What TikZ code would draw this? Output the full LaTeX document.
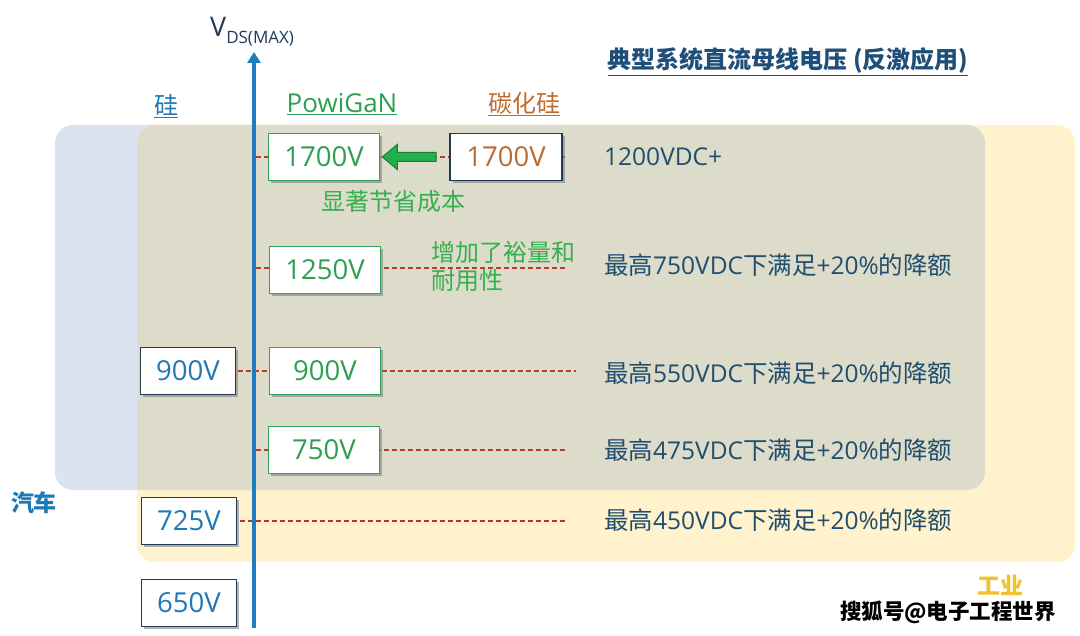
\documentclass[tikz,border=0pt]{standalone}
\usepackage{fontspec}
\setmainfont{Open Sans}
\newfontfamily\cjk{Noto Sans CJK SC}
\usetikzlibrary{arrows.meta,shadows,calc}
\definecolor{bgblue}{HTML}{DAE3EF}
\definecolor{bgyellow}{HTML}{FFF2CC}
\definecolor{bggrey}{HTML}{DDDBC9}
\definecolor{axisblue}{HTML}{1F7EC1}
\definecolor{gangreen}{HTML}{2EA55A}
\definecolor{gantext}{HTML}{2E9E52}
\definecolor{notegreen}{HTML}{34B050}
\definecolor{navy}{HTML}{1F3A56}
\definecolor{sitext}{HTML}{1E78B4}
\definecolor{sictext}{HTML}{BF6B2E}
\definecolor{dashred}{HTML}{B83A2E}
\definecolor{darktext}{HTML}{1F4E6E}
\definecolor{titleblue}{HTML}{1F4E79}
\definecolor{arrowfill}{HTML}{22B04B}
\definecolor{arrowdraw}{HTML}{1A7A38}
\definecolor{gold}{HTML}{F2C12E}
\newcommand{\rowtext}[1]{{\cjk 最高}#1VDC{\cjk 下满足}+20\%{\cjk 的降额}}
\begin{document}
\begin{tikzpicture}[x=1pt,y=-1pt,
  boxbase/.style={draw, line width=1.6pt, fill=white, inner sep=0pt,
    minimum height=47pt, font=\fontsize{27.5}{27.5}\selectfont,
    drop shadow={shadow xshift=2.5pt, shadow yshift=-2.5pt, fill=black!50, opacity=0.6}},
  gbox/.style={boxbase, draw=gangreen, text=gantext, minimum width=111pt},
  sibox/.style={boxbase, draw=navy, text=sitext, minimum width=95pt},
  sicbox/.style={boxbase, draw=navy, text=sictext, minimum width=112pt},
  guide/.style={draw=dashred, line width=1.2pt, dash pattern=on 5pt off 3pt},
  axisline/.style={draw=axisblue, line width=4pt, -{Triangle[width=13pt,length=11pt]}},
  garrow/.style={fill=arrowfill, draw=arrowdraw, line width=1pt, line join=miter},
  gtext/.style={text=notegreen, font=\cjk\fontsize{24}{28}\selectfont, inner sep=0pt},
  rtext/.style={text=darktext, font=\fontsize{24.5}{24.5}\selectfont, anchor=west, inner sep=0pt},
  cattext/.style={font=\fontsize{24}{24}\selectfont, inner sep=0pt},
  sector/.style={font=\cjk\bfseries\fontsize{23}{23}\selectfont, inner sep=0pt}
]
\useasboundingbox (0,0) rectangle (1080,636);
% background regions
\fill[bgblue, rounded corners=18pt] (55,125) rectangle (985,490);
\fill[bgyellow, rounded corners=18pt] (137,125) rectangle (1075,562);
\begin{scope}
  \clip[rounded corners=18pt] (55,125) rectangle (985,490);
  \fill[bggrey, rounded corners=18pt] (137,125) rectangle (1075,562);
\end{scope}
% guide coordinates
\coordinate (a1700) at (256,157); \coordinate (e1700) at (567,157);
\coordinate (a1250) at (256,268); \coordinate (e1250) at (568,268);
\coordinate (a900) at (238,371);  \coordinate (e900) at (576,371);
\coordinate (a750) at (256,450);  \coordinate (e750) at (567,450);
\coordinate (a725) at (240,521);  \coordinate (e725) at (567,521);
\draw[guide] (a1700) -- (e1700);
\draw[guide] (a1250) -- (e1250);
\draw[guide] (a900) -- (e900);
\draw[guide] (a750) -- (e750);
\draw[guide] (a725) -- (e725);
% axis
\coordinate (axb) at (254,628);
\coordinate (axt) at (254,52);
\draw[axisline] (axb) -- (axt);
\node[text=navy, inner sep=0pt, anchor=west] (vlabel) at (210,32)
  {{\fontsize{27}{27}\selectfont V}\raisebox{-7pt}{\fontsize{17}{17}\selectfont DS(MAX)}};
% category labels
\node[cattext, text=sitext] (si) at (166,106) {\underline{\cjk 硅}};
\node[cattext, text=gantext, font=\fontsize{26}{26}\selectfont] (gan) at (342,104) {\underline{PowiGaN}};
\node[cattext, text=sictext] (sic) at (524,104) {\underline{\cjk 碳化硅}};
\node[text=titleblue, font=\cjk\bfseries\fontsize{24}{24}\selectfont, inner sep=0pt] (title) at (788,62)
  {\underline{典型系统直流母线电压 (反激应用)}};
% boxes
\node[gbox] (g1700) at (324,157) {1700V};
\node[sicbox] (s1700) at (506,157) {1700V};
\node[gbox] (g1250) at (325,270) {1250V};
\node[sibox] (si900) at (188,371) {900V};
\node[gbox] (g900) at (325,371) {900V};
\node[gbox] (g750) at (324,450) {750V};
\node[sibox] (si725) at (189,521) {725V};
\node[sibox] (si650) at (189,603) {650V};
% green block arrow from SiC to GaN
\draw[garrow] ($(s1700.west)+(-13,-4.5)$) -- ($(g1700.east)+(17,-4.5)$)
  -- ($(g1700.east)+(17,-12.5)$) -- ($(g1700.east)+(2,0)$)
  -- ($(g1700.east)+(17,12.5)$) -- ($(g1700.east)+(17,4.5)$)
  -- ($(s1700.west)+(-13,4.5)$) -- cycle;
% green notes
\node[gtext] (save) at (393,201) {显著节省成本};
\node[gtext, anchor=west, align=left] (margin) at (431,266) {增加了裕量和\\耐用性};
% right texts
\node[rtext] (r1200) at (604,157) {1200VDC+};
\node[rtext] (r750) at (604,265) {\rowtext{750}};
\node[rtext] (r550) at (604,373) {\rowtext{550}};
\node[rtext] (r475) at (604,450) {\rowtext{475}};
\node[rtext] (r450) at (604,520) {\rowtext{450}};
% sector labels
\node[sector, text=sitext] (auto) at (34,503) {汽车};
\node[sector, text=gold] (ind) at (1000,585) {工业};
\node[text=black, font=\cjk\bfseries\fontsize{21.5}{21.5}\selectfont, inner sep=0pt] (wm) at (948,612) {搜狐号@电子工程世界};
\end{tikzpicture}
\end{document}
